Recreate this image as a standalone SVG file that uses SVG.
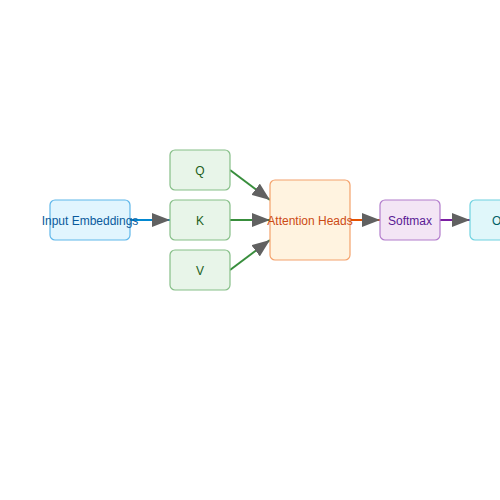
<svg xmlns="http://www.w3.org/2000/svg" width="500" height="500" viewBox="0 0 500 500">
<defs>
<marker id="arr" viewBox="0 0 18 14" refX="18" refY="7" markerWidth="18" markerHeight="14" markerUnits="userSpaceOnUse" orient="auto">
<path d="M0,0 L18,7 L0,14 z" fill="#616161"/>
</marker>
<style>
text{font-family:"Liberation Sans",Arial,sans-serif;font-size:12px;text-anchor:middle}
.in rect{fill:#e1f5fe;stroke:#5fb7ea;stroke-width:1.2}
.in text{fill:#0a5a9c}
.qkv rect{fill:#e8f5e9;stroke:#86bf88;stroke-width:1.2}
.qkv text{fill:#1b5e20}
.att rect{fill:#fff3e0;stroke:#f4a26c;stroke-width:1.2}
.att text{fill:#cc4a14}
.sm rect{fill:#f3e5f5;stroke:#b27ccc;stroke-width:1.2}
.sm text{fill:#5a1a94}
.out rect{fill:#e0f7fa;stroke:#6fd2e0;stroke-width:1.2}
.out text{fill:#006064}
.e{stroke-width:2;fill:none;marker-end:url(#arr)}
</style>
</defs>
<rect width="500" height="500" fill="#ffffff"/>
<g id="connectors">
<line class="e" x1="130" y1="220" x2="170" y2="220" stroke="#0288d1"/>
<line class="e" x1="230" y1="170" x2="270" y2="200" stroke="#388e3c"/>
<line class="e" x1="230" y1="220" x2="270" y2="220" stroke="#388e3c"/>
<line class="e" x1="230" y1="270" x2="270" y2="240" stroke="#388e3c"/>
<line class="e" x1="350" y1="220" x2="380" y2="220" stroke="#e65100"/>
<line class="e" x1="440" y1="220" x2="470" y2="220" stroke="#7b1fa2"/>
</g>
<g id="input" class="in"><rect x="50" y="200" width="80" height="40" rx="5"/><text x="90" y="225">Input Embeddings</text></g>
<g id="q" class="qkv"><rect x="170" y="150" width="60" height="40" rx="5"/><text x="200" y="175">Q</text></g>
<g id="k" class="qkv"><rect x="170" y="200" width="60" height="40" rx="5"/><text x="200" y="225">K</text></g>
<g id="v" class="qkv"><rect x="170" y="250" width="60" height="40" rx="5"/><text x="200" y="275">V</text></g>
<g id="attention" class="att"><rect x="270" y="180" width="80" height="80" rx="5"/><text x="310" y="225">Attention Heads</text></g>
<g id="softmax" class="sm"><rect x="380" y="200" width="60" height="40" rx="5"/><text x="410" y="225">Softmax</text></g>
<g id="output" class="out"><rect x="470" y="200" width="80" height="40" rx="5"/><text x="510" y="225">Output</text></g>
</svg>
